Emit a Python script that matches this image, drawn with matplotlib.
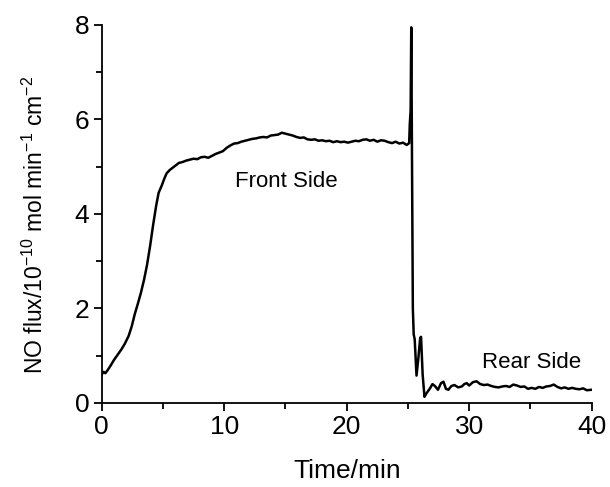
import matplotlib
matplotlib.use("Agg")
import matplotlib.pyplot as plt
from matplotlib.ticker import MultipleLocator

plt.rcParams['font.family'] = ['Liberation Sans', 'DejaVu Sans']
plt.rcParams['mathtext.fontset'] = 'custom'
plt.rcParams['mathtext.rm'] = 'Liberation Sans'

# NO flux trace
time_min = [
    0.0, 0.15, 0.3, 0.5, 0.75, 1.0, 1.3, 1.6, 1.9, 2.2, 2.45, 2.7, 2.95, 3.2, 3.45,
    3.7, 3.95, 4.2, 4.45, 4.65, 4.9, 5.1, 5.3, 5.55, 5.8, 6.05, 6.3, 6.6, 6.9, 7.2,
    7.5, 7.8, 8.1, 8.4, 8.7, 9.0, 9.3, 9.6, 9.9, 10.2, 10.5, 10.8, 11.1, 11.4, 11.7,
    12.0, 12.3, 12.6, 12.9, 13.2, 13.5, 13.8, 14.1, 14.4, 14.7, 15.0, 15.3, 15.6,
    15.9, 16.2, 16.5, 16.8, 17.1, 17.4, 17.7, 18.0, 18.3, 18.6, 18.9, 19.2, 19.5,
    19.8, 20.1, 20.4, 20.7, 21.0, 21.3, 21.6, 21.9, 22.2, 22.5, 22.8, 23.1, 23.4,
    23.7, 24.0, 24.3, 24.6, 24.9, 25.1, 25.15, 25.22, 25.27, 25.33, 25.4, 25.47,
    25.55, 25.7, 25.85, 26.0, 26.07, 26.2, 26.35, 26.5, 26.8, 27.0, 27.2, 27.45,
    27.7, 27.9, 28.1, 28.3, 28.55, 28.8, 29.1, 29.4, 29.6, 29.8, 30.0, 30.3, 30.6,
    30.9, 31.2, 31.5, 31.8, 32.1, 32.4, 32.7, 33.0, 33.3, 33.6, 33.9, 34.2, 34.5,
    34.8, 35.1, 35.4, 35.7, 36.0, 36.3, 36.6, 36.9, 37.2, 37.5, 37.8, 38.1, 38.4,
    38.7, 39.0, 39.3, 39.6, 40.0,
]
no_flux = [
    0.60, 0.66, 0.63, 0.70, 0.80, 0.91, 1.02, 1.13, 1.26, 1.42, 1.62, 1.88, 2.10,
    2.33, 2.60, 2.92, 3.32, 3.77, 4.18, 4.45, 4.60, 4.74, 4.86, 4.93, 4.98, 5.03,
    5.08, 5.10, 5.13, 5.15, 5.17, 5.16, 5.20, 5.21, 5.19, 5.23, 5.27, 5.30, 5.33,
    5.40, 5.45, 5.49, 5.50, 5.53, 5.55, 5.57, 5.59, 5.60, 5.62, 5.63, 5.62, 5.66,
    5.67, 5.68, 5.72, 5.70, 5.68, 5.66, 5.63, 5.61, 5.62, 5.58, 5.57, 5.58, 5.55,
    5.56, 5.54, 5.55, 5.52, 5.54, 5.52, 5.53, 5.51, 5.53, 5.55, 5.54, 5.57, 5.58,
    5.55, 5.57, 5.53, 5.56, 5.55, 5.52, 5.50, 5.53, 5.49, 5.51, 5.46, 5.50, 5.90,
    6.20, 7.95, 5.00, 2.00, 1.45, 1.35, 0.58, 0.95, 1.38, 1.40, 0.60, 0.13, 0.20,
    0.31, 0.40, 0.36, 0.28, 0.42, 0.45, 0.30, 0.28, 0.36, 0.38, 0.33, 0.35, 0.40,
    0.42, 0.37, 0.44, 0.46, 0.40, 0.38, 0.39, 0.36, 0.34, 0.33, 0.35, 0.36, 0.34,
    0.39, 0.37, 0.34, 0.35, 0.30, 0.32, 0.30, 0.34, 0.32, 0.35, 0.36, 0.39, 0.34,
    0.31, 0.33, 0.30, 0.32, 0.30, 0.29, 0.31, 0.27, 0.28,
]

fig = plt.figure(figsize=(6.1, 4.87), dpi=100)
ax = fig.add_axes([0.1667, 0.1725, 0.8033, 0.7762])

ax.plot(time_min, no_flux, color='black', linewidth=1.8)

ax.set_xlim(0, 40)
ax.set_ylim(0, 8)
ax.xaxis.set_major_locator(MultipleLocator(10))
ax.xaxis.set_minor_locator(MultipleLocator(5))
ax.yaxis.set_major_locator(MultipleLocator(2))
ax.yaxis.set_minor_locator(MultipleLocator(1))

for side in ['top', 'right']:
    ax.spines[side].set_visible(False)
for side in ['left', 'bottom']:
    ax.spines[side].set_linewidth(1.3)

ax.tick_params(which='major', direction='out', length=6, width=1.3, labelsize=19, pad=3)
ax.tick_params(which='minor', direction='out', length=4, width=1.3)

ax.set_xlabel('Time/min', fontsize=19, labelpad=14)
ax.set_ylabel(r'NO flux/10$^{-10}$ mol min$^{-1}$ cm$^{-2}$', fontsize=16.5,
              labelpad=19, y=0.47)

ax.text(15.1, 4.68, 'Front Side', fontsize=16, ha='center', va='center')
ax.text(35.1, 0.85, 'Rear Side', fontsize=16, ha='center', va='center')

fig.savefig('out.png', dpi=100)
